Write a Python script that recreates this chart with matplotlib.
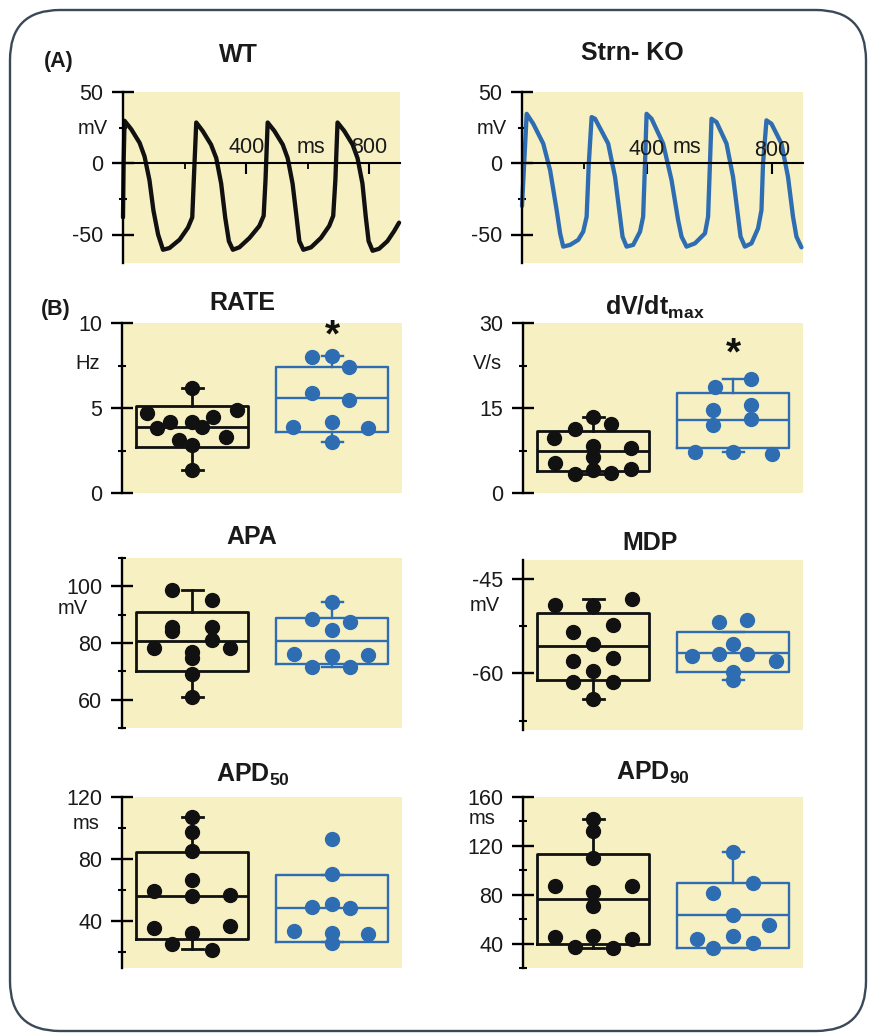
import matplotlib
matplotlib.use('Agg')
import matplotlib.pyplot as plt
from matplotlib.patches import FancyBboxPatch
from matplotlib.ticker import FixedLocator
from matplotlib.transforms import ScaledTranslation

plt.rcParams['font.family'] = ['Liberation Sans', 'DejaVu Sans']
plt.rcParams['mathtext.fontset'] = 'custom'
plt.rcParams['mathtext.rm'] = 'Liberation Sans'
plt.rcParams['mathtext.bf'] = 'Liberation Sans:bold'

# ---------------- data ----------------
# (A) action potential traces (time ms, voltage mV)
wt_t = [0, 2, 5, 27, 54, 70, 86, 99, 114, 130, 151, 184, 211, 225, 230, 238,
        259, 286, 303, 319, 332, 344, 357, 378, 411, 443, 457, 463, 470,
        492, 519, 535, 551, 564, 573, 586, 611, 643, 670, 683, 690, 697,
        719, 746, 762, 778, 789, 798, 811, 832, 859, 881, 897]
wt_v = [-38, 0, 29.8, 23.8, 14.3, 4.8, -11.9, -33.3, -50, -60.7, -59.5, -53.6, -45.2, -38, -11.9, 28.6,
        22.6, 13.1, 3.6, -14.3, -38, -54.7, -60.7, -59, -52.4, -44, -36.9, -11.9, 28.6,
        22.6, 13.1, 3.6, -14.3, -38, -54.7, -60.7, -59, -52.4, -44, -36.9, -11.9, 28.6,
        22.6, 13.1, 3.6, -14.3, -38, -54.7, -61.4, -60, -54.7, -47.6, -41.7]

ko_t = [0, 15, 36, 68, 90, 111, 122, 132, 154, 180, 196, 207, 214, 223,
        234, 276, 298, 314, 322, 335, 356, 378, 388, 394, 399,
        415, 452, 479, 500, 511, 527, 554, 586, 596, 602, 607,
        623, 655, 676, 692, 700, 714, 735, 756, 767, 772, 783,
        799, 831, 852, 868, 879, 895]
ko_v = [-30, 34.7, 27.7, 13.8, -4.9, -32.9, -49.2, -58.5, -57.3, -53.8, -48, -37.5, 0, 32.4,
        31.2, 13.8, -9.6, -37.5, -51.5, -58.5, -57.3, -48, -37.5, 0, 34.7,
        31.2, 13.8, -11.9, -39.9, -51.5, -58.5, -56.2, -49.2, -37.5, 0, 31.2,
        28.9, 13.8, -9.6, -37.5, -51.5, -58.5, -56.2, -45.7, -32.9, 0, 30.1,
        27.7, 13.8, -9.6, -37.5, -51.5, -59]

groups = ['WT', 'Strn- KO']

# (B) individual values, horizontal jitter offsets and box stats (q1, median, q3, whisker low, whisker high)
rate_wt = [6.2, 4.7, 4.9, 4.5, 4.2, 3.8, 4.2, 3.9, 3.1, 3.3, 2.8, 1.35]
rate_wt_x = [0, -0.32, 0.32, 0.15, -0.16, -0.25, 0, 0.07, -0.09, 0.24, 0, 0]
rate_ko = [8.0, 8.05, 7.4, 5.9, 5.5, 3.9, 4.2, 3.8, 3.0]
rate_ko_x = [-0.14, 0, 0.12, -0.14, 0.12, -0.28, 0, 0.26, 0]
rate_wt_box = [2.7, 3.9, 5.1, 1.35, 6.2]
rate_ko_box = [3.6, 5.6, 7.4, 3.0, 8.05]

dvdt_wt = [13.4, 11.3, 12.2, 9.7, 8.3, 7.9, 6.4, 5.3, 4.1, 3.4, 3.5, 4.2]
dvdt_wt_x = [0, -0.13, 0.13, -0.28, 0, 0.27, 0, -0.27, 0, -0.13, 0.13, 0.27]
dvdt_ko = [18.7, 20.1, 14.6, 15.5, 12.0, 13.0, 7.2, 7.2, 6.9]
dvdt_ko_x = [-0.13, 0.13, -0.14, 0.13, -0.14, 0.13, -0.27, 0, 0.28]
dvdt_wt_box = [3.9, 7.4, 10.9, 3.4, 13.4]
dvdt_ko_box = [7.9, 12.9, 17.6, 7.2, 20.1]

apa_wt = [98.6, 95.1, 85.6, 84.2, 85.6, 81.1, 78.2, 78.2, 76.8, 74.7, 69.1, 61.1]
apa_wt_x = [-0.14, 0.14, -0.14, -0.14, 0.14, 0.14, -0.27, 0.27, 0, 0, 0, 0]
apa_ko = [94.4, 88.4, 87.4, 84.6, 76.1, 75.4, 75.8, 71.6, 71.6]
apa_ko_x = [0, -0.14, 0.13, 0, -0.27, 0, 0.26, -0.14, 0.13]
apa_wt_box = [70.2, 80.7, 90.9, 61.1, 98.6]
apa_ko_box = [72.6, 80.7, 88.8, 71.6, 94.4]

mdp_wt = [-49.1, -49.3, -48.2, -53.4, -52.3, -55.3, -58.0, -57.5, -59.7, -61.4, -61.3, -64.0]
mdp_wt_x = [-0.27, 0, 0.28, -0.14, 0.14, 0, -0.14, 0.14, 0, -0.14, 0.14, 0]
mdp_ko = [-51.8, -51.6, -55.4, -57.2, -56.9, -57.0, -58.0, -59.8, -61.1]
mdp_ko_x = [-0.1, 0.1, 0, -0.29, -0.1, 0.1, 0.31, 0, 0]
mdp_wt_box = [-61.1, -55.7, -50.4, -64.0, -48.2]
mdp_ko_box = [-59.8, -56.7, -53.4, -61.1, -53.4]

apd50_wt = [107.1, 97.4, 85.2, 66.5, 56.1, 59.4, 56.8, 35.5, 36.8, 32.3, 25.2, 21.3]
apd50_wt_x = [0, 0, 0, 0, 0, -0.27, 0.27, -0.27, 0.27, 0, -0.14, 0.14]
apd50_ko = [92.9, 70.3, 49.0, 51.0, 48.4, 33.5, 32.3, 31.6, 25.8]
apd50_ko_x = [0, 0, -0.14, 0, 0.13, -0.27, 0, 0.26, 0]
apd50_wt_box = [28.4, 56.1, 84.5, 22.0, 107.1]
apd50_ko_box = [26.5, 48.4, 69.7, 26.5, 69.7]

apd90_wt = [142.0, 132.2, 110.2, 87.3, 87.3, 82.4, 71.0, 46.5, 45.7, 44.1, 37.6, 36.0]
apd90_wt_x = [0, 0, 0, -0.27, 0.28, 0, 0, 0, -0.27, 0.28, -0.13, 0.14]
apd90_ko = [115.1, 89.8, 81.6, 63.7, 55.5, 44.1, 46.5, 36.7, 40.8]
apd90_ko_x = [0, 0.14, -0.14, 0, 0.26, -0.26, 0, -0.14, 0.14]
apd90_wt_box = [39.5, 76.7, 113.5, 36.0, 142.0]
apd90_ko_box = [36.7, 63.7, 89.8, 36.7, 115.1]

# ---------------- styling ----------------
W, H = 873, 1036
fig = plt.figure(figsize=(W / 100, H / 100), dpi=100)
YELLOW = '#f6f0c3'
BLUE = '#2f6db3'
BLACK = '#111111'
TXT = '#1a1a1a'
TICK_FS = 15.5
UNIT_FS = 14.5
TITLE_FS = 18


def px_axes(x0, y0, x1, y1):
    return fig.add_axes([x0 / W, 1 - y1 / H, (x1 - x0) / W, (y1 - y0) / H])


def left_text(ax, dx_px, y, s, **kw):
    tr = ax.get_yaxis_transform() + ScaledTranslation(-dx_px / 100, 0, fig.dpi_scale_trans)
    ax.text(0, y, s, transform=tr, ha='right', va='center', fontsize=UNIT_FS, color=TXT, **kw)


def style_yaxis(ax, majors, labels, minors):
    for s in ['top', 'right']:
        ax.spines[s].set_visible(False)
    ax.spines['left'].set_linewidth(1.7)
    ax.yaxis.set_major_locator(FixedLocator(majors))
    ax.set_yticklabels(labels)
    ax.yaxis.set_minor_locator(FixedLocator(minors))
    ax.tick_params(axis='y', which='major', direction='inout', length=16.5, width=1.7,
                   pad=6.0, labelsize=TICK_FS, labelcolor=TXT)
    ax.tick_params(axis='y', which='minor', direction='inout', length=6, width=1.5)


def trace_panel(rect, t, v, color, ticktexts):
    ax = px_axes(*rect)
    ax.set_facecolor(YELLOW)
    ax.plot(t, v, color=color, lw=3.1, solid_joinstyle='round', solid_capstyle='round', clip_on=False)
    ax.set_xlim(0, 900)
    ax.set_ylim(-70, 50)
    style_yaxis(ax, [-50, 0, 50], ['-50', '0', '50'], [-25, 25])
    ax.spines['bottom'].set_position(('data', 0))
    ax.spines['bottom'].set_linewidth(1.5)
    ax.xaxis.set_major_locator(FixedLocator([400, 800]))
    ax.xaxis.set_minor_locator(FixedLocator([200, 600]))
    ax.set_xticklabels([])
    ax.tick_params(axis='x', which='major', direction='out', length=8, width=1.5)
    ax.tick_params(axis='x', which='minor', direction='out', length=4, width=1.3)
    for (x, y, s) in ticktexts:
        ax.text(x, y, s, ha='center', va='baseline', fontsize=TICK_FS, color=TXT)
    left_text(ax, 15, 24.5, 'mV')
    return ax


def box_panel(rect, ylim, majors, labels, minors, wt, wt_x, wt_box, ko, ko_x, ko_box):
    ax = px_axes(*rect)
    ax.set_facecolor(YELLOW)
    ax.set_xlim(0.5, 2.5)
    ax.set_ylim(*ylim)
    ax.spines['bottom'].set_visible(False)
    ax.set_xticks([])
    style_yaxis(ax, majors, labels, minors)
    for pos, box, color, lw in [(1, wt_box, BLACK, 2.0), (2, ko_box, BLUE, 1.7)]:
        stats = [dict(q1=box[0], med=box[1], q3=box[2], whislo=box[3], whishi=box[4])]
        lp = dict(color=color, lw=lw)
        ax.bxp(stats, positions=[pos], widths=0.8, showfliers=False, capwidths=0.15,
               boxprops=lp, medianprops=lp, whiskerprops=lp, capprops=lp, manage_ticks=False)
    ax.plot([1 + o for o in wt_x], wt, 'o', color=BLACK, ms=10, zorder=5)
    ax.plot([2 + o for o in ko_x], ko, 'o', color=BLUE, ms=10, zorder=5)
    return ax


# ---- (A) traces
trace_panel((123, 92, 400, 263), wt_t, wt_v, BLACK,
            [(401, 7, '400'), (612, 7, 'ms'), (800, 7, '800')])
trace_panel((522, 92, 803, 263), ko_t, ko_v, BLUE,
            [(400, 6, '400'), (528, 7.5, 'ms'), (800, 5, '800')])

# ---- (B) box panels
ax = box_panel((122, 323, 402, 493), (0, 10), [0, 5, 10], ['0', '5', '10'], [2.5, 7.5],
               rate_wt, rate_wt_x, rate_wt_box, rate_ko, rate_ko_x, rate_ko_box)
left_text(ax, 22, 7.6, 'Hz')
ax.text(2, 8.6, '*', ha='center', va='baseline', fontsize=28, fontweight='bold', color=BLACK)

ax = box_panel((523, 323, 803, 493), (0, 30), [0, 15, 30], ['0', '15', '30'], [7.5, 22.5],
               dvdt_wt, dvdt_wt_x, dvdt_wt_box, dvdt_ko, dvdt_ko_x, dvdt_ko_box)
left_text(ax, 21, 22.8, 'V/s')
ax.text(2, 22.6, '*', ha='center', va='baseline', fontsize=28, fontweight='bold', color=BLACK)

ax = box_panel((122, 558, 402, 728), (50, 110), [60, 80, 100], ['60', '80', '100'], [50, 70, 90, 110],
               apa_wt, apa_wt_x, apa_wt_box, apa_ko, apa_ko_x, apa_ko_box)
left_text(ax, 34, 92.3, 'mV')

ax = box_panel((523, 560, 803, 730), (-69, -42), [-60, -45], ['-60', '-45'], [-67.5, -52.5],
               mdp_wt, mdp_wt_x, mdp_wt_box, mdp_ko, mdp_ko_x, mdp_ko_box)
left_text(ax, 23, -49.3, 'mV')

ax = box_panel((122, 797, 402, 968), (10, 120), [40, 80, 120], ['40', '80', '120'], [20, 60, 100],
               apd50_wt, apd50_wt_x, apd50_wt_box, apd50_ko, apd50_ko_x, apd50_ko_box)
left_text(ax, 22, 103.0, 'ms')

ax = box_panel((523, 797, 803, 968), (20, 160), [40, 80, 120, 160], ['40', '80', '120', '160'],
               [20, 60, 100, 140],
               apd90_wt, apd90_wt_x, apd90_wt_box, apd90_ko, apd90_ko_x, apd90_ko_box)
left_text(ax, 27, 142.0, 'ms')


# ---- titles and panel letters (pixel positions)
def ftext(x, y, s, **kw):
    fig.text(x / W, 1 - y / H, s, ha='center', va='center', color=TXT, **kw)


ftext(238, 55, groups[0], fontsize=TITLE_FS, fontweight='bold')
ftext(632, 53, groups[1], fontsize=TITLE_FS, fontweight='bold')
ftext(59, 62, '(A)', fontsize=15.5, fontweight='bold')
ftext(56, 309, '(B)', fontsize=15.5, fontweight='bold')
ftext(242, 303, 'RATE', fontsize=TITLE_FS, fontweight='bold')
ftext(655, 307, r'$\mathbf{dV/dt_{max}}$', fontsize=TITLE_FS)
ftext(252, 537, 'APA', fontsize=TITLE_FS, fontweight='bold')
ftext(650, 543, 'MDP', fontsize=TITLE_FS, fontweight='bold')
ftext(253, 775, r'$\mathbf{APD_{50}}$', fontsize=TITLE_FS)
ftext(653, 773, r'$\mathbf{APD_{90}}$', fontsize=TITLE_FS)

# ---- rounded frame
frame = FancyBboxPatch((0.10, 0.05), 8.56, 10.21, boxstyle='round,pad=0,rounding_size=0.5',
                       transform=fig.dpi_scale_trans, fill=False, ec='#3b4858', lw=1.7)
fig.add_artist(frame)

fig.savefig('out.png', dpi=100)
